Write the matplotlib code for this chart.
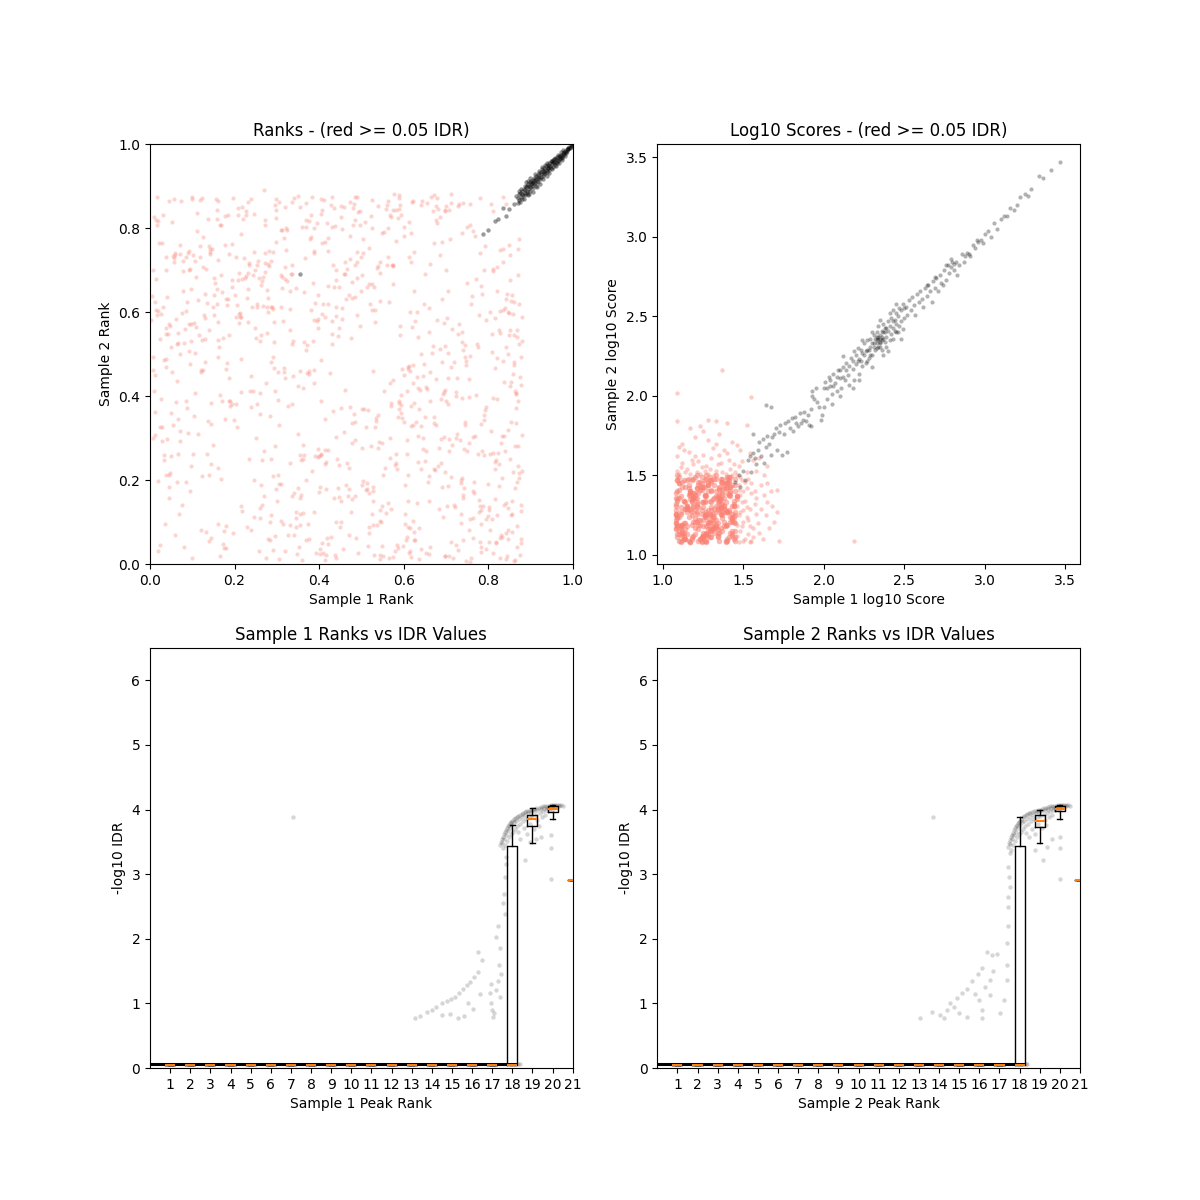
import numpy as np
import matplotlib
matplotlib.use("Agg")
import matplotlib.pyplot as plt

# ---------------- Panel 1: ranks (per mille) ----------------
rank_red_x = [
12,345,678,101,834,456,223,590,767,39,412,858,290,153,621,505,744,87,369,812,
234,567,45,701,388,129,876,543,266,698,17,452,803,331,610,174,489,755,62,297,
528,843,190,415,672,93,357,781,246,634,501,28,869,313,145,726,584,439,207,650,
779,352,118,597,864,273,436,5,689,531,162,820,398,741,54,476,259,613,847,381,
70,558,293,736,421,167,609,872,332,486,215,793,648,24,370,541,107,825,462,279,
615,188,749,430,856,79,302,567,683,241,518,835,137,404,712,46,591,363,878,226,
497,660,34,286,771,145,523,408,850,199,617,351,94,738,472,261,803,576,13,389,
841,253,706,128,574,395,819,66,637,482,309,761,182,548,871,418,237,695,111,556,
324,789,441,60,602,277,866,513,159,728,386,21,654,490,817,212,573,349,748,104,
686,137,535,829,398,250,713,76,461,594,872,315,177,640,425,784,29,561,298,853,
415,740,206,562,88,337,808,479,661,141,526,381,765,8,618,271,842,444,123,697,
583,32,366,727,214,856,499,157,642,303,777,95,431,545,868,260,712,188,607,374,
822,448,117,673,290,539,41,754,385,612,196,880,467,327,729,81,504,636,229,793,
159,600,817,345,72,482,699,253,864,410,133,576,770,305,627,49,453,739,215,532,
697,275,851,48,508,363,721,190,589,432,16,780,316,658,102,839,474,245,569,399,
44,811,427,176,634,859,290,517,85,746,368,603,218,477,801,140,687,338,561,9,
758,234,593,404,67,681,829,152,455,318,746,527,12,866,282,610,398,197,707,484,
311,646,97,552,783,436,204,874,359,620,58,485,735,166,540,816,267,422,685,130,
568,19,702,388,835,123,641,296,479,763,215,587,849,347,79,522,659,240,807,430,
225,796,460,615,141,858,384,53,723,537,276,666,99,413,788,562,178,332,845,709,
631,387,158,810,502,26,678,445,256,592,833,114,364,747,493,871,203,624,71,452,
90,543,862,268,731,417,186,656,323,845,501,37,776,604,240,390,698,129,819,576,
796,321,488,62,611,773,209,857,430,144,553,677,305,25,741,466,583,852,193,376,
356,699,244,581,828,106,470,319,763,645,49,415,878,280,535,167,622,783,404,2,
518,173,804,451,37,672,294,545,860,216,399,730,84,617,471,336,819,152,695,263,
874,433,112,632,376,751,8,489,227,580,701,349,843,160,526,68,407,765,287,644,
203,736,549,86,865,297,620,420,180,795,337,591,44,706,475,861,253,126,562,389,
654,14,370,790,514,229,837,146,688,408,575,270,811,56,443,728,341,607,194,870,
462,826,279,63,593,724,363,185,848,506,118,675,414,799,231,37,630,550,312,757,
118,609,468,880,327,170,771,524,39,395,718,257,852,586,135,463,676,293,815,544,
739,281,75,436,662,820,193,568,312,97,742,485,626,354,876,211,512,17,398,663,
346,547,795,161,420,30,635,284,867,714,453,108,589,239,779,363,55,832,496,178,
822,100,651,389,248,566,855,473,15,743,320,606,184,447,708,527,271,863,139,671,
261,703,480,832,131,378,598,47,524,861,287,684,413,756,92,220,579,337,805,440,
581,404,23,725,305,847,161,621,489,210,694,855,67,359,533,782,416,143,647,270,
57,402,739,180,623,846,311,95,528,764,243,470,812,136,681,365,19,590,857,274,
441,708,162,533,879,320,64,655,217,786,392,501,28,748,604,151,836,287,459,713,
183,612,354,827,71,497,740,260,569,15,673,418,842,109,536,296,781,642,206,388,
868,245,516,40,705,377,159,824,450,631,85,283,760,562,339,867,124,478,695,9,
296,553,830,193,417,64,720,588,335,863,474,210,646,31,779,527,168,403,852,659,
510,77,669,403,249,791,126,558,877,322,692,448,56,615,231,806,371,140,584,738,
37,754,286,601,437,149,873,515,89,662,346,815,207,539,716,265,430,19,800,594,
723,383,92,846,263,544,170,691,420,32,758,611,298,870,486,104,637,355,226,878,
406,617,200,52,734,485,336,809,133,571,252,697,441,877,160,623,73,514,782,319,
166,860,477,318,590,7,427,745,596,231,843,120,382,690,548,11,735,463,276,851,
625,299,38,766,179,654,505,855,271,448,67,578,812,333,144,706,519,847,404,92,
839,113,707,540,372,837,232,24,663,355,481,786,163,617,877,291,565,187,676,44,
273,486,827,97,664,357,783,601,126,871,311,43,524,755,398,217,838,624,83,460,
586,741,148,625,49,811,454,173,391,713,548,865,288,106,677,437,6,758,302,517,
120,368,574,880,216,492,70,638,826,263,405,689,96,332,571,749,160,831,440,612]
rank_red_y = [
451,87,812,263,604,35,729,388,170,547,866,219,492,668,103,775,339,625,58,841,
712,300,156,853,430,586,21,694,247,519,808,372,135,650,465,78,742,289,583,869,
184,632,376,9,765,508,248,871,113,419,687,327,556,795,62,443,226,613,848,351,
594,41,730,465,282,819,158,637,393,21,577,706,254,859,332,124,681,472,81,778,
316,846,528,97,661,202,413,773,558,875,138,367,620,45,802,290,502,239,720,601,
30,387,669,524,149,721,456,832,277,612,73,750,341,486,207,865,566,121,427,685,
807,552,260,116,679,384,828,50,597,343,787,181,702,528,862,406,129,666,308,745,
146,713,442,594,17,811,247,526,368,856,102,638,478,289,751,61,412,573,836,228,
675,259,101,736,449,612,371,192,843,33,530,764,268,874,155,597,711,424,6,352,
511,822,348,63,274,538,880,140,691,403,217,579,760,36,454,663,292,855,178,626,
238,57,617,799,372,162,504,287,24,743,605,831,110,461,329,696,858,542,210,415,
843,485,728,310,589,76,651,868,227,390,516,174,803,627,40,357,470,739,263,96,
392,160,546,878,33,710,297,441,668,815,73,588,241,376,852,526,197,13,634,758,
655,782,226,123,500,358,843,620,182,26,702,439,305,863,578,256,99,789,487,326,
19,431,676,566,814,249,135,388,846,712,592,53,466,195,735,609,373,834,132,258,
571,264,855,39,304,452,608,752,196,492,860,118,679,335,53,213,826,532,711,413,
106,716,378,834,549,233,15,682,797,457,330,174,623,404,746,89,561,871,269,636,
795,448,572,211,128,660,380,525,9,862,741,296,193,807,354,466,614,48,736,535,
253,602,139,740,483,872,328,67,633,174,410,824,545,25,698,282,151,447,856,579,
681,36,314,459,737,595,222,814,401,93,653,503,868,271,137,731,345,606,20,775,
446,800,620,107,277,394,871,182,721,545,65,309,648,475,837,233,587,384,760,150,
312,129,480,683,858,22,545,417,796,643,189,730,263,96,375,622,841,481,52,710,
580,747,63,385,212,525,677,120,875,334,790,441,13,596,156,703,261,423,660,817,
850,18,688,240,551,407,178,849,61,299,517,767,141,634,340,808,475,96,259,582,
87,537,261,852,700,336,466,11,623,785,172,571,389,718,228,863,49,640,410,189,
620,365,792,146,453,268,701,593,840,32,389,876,516,229,667,119,764,302,480,865,
732,199,42,602,336,824,564,271,465,106,691,855,213,381,537,8,612,779,145,461,
27,820,510,354,660,87,433,750,298,596,844,163,395,718,251,547,872,65,380,689,
414,556,714,195,830,46,284,630,501,369,758,224,588,115,862,470,337,19,683,807,
866,295,162,531,70,647,403,800,213,578,482,32,735,350,621,188,853,577,243,102,
205,709,597,848,389,117,761,430,656,530,275,818,57,158,446,694,327,874,584,41,
658,99,373,493,777,612,244,56,541,283,827,684,370,870,125,419,733,205,567,828,
490,875,246,124,700,15,337,781,604,181,443,56,831,660,297,92,740,412,558,349,
134,586,848,304,643,775,43,217,867,474,612,130,345,5,700,821,236,523,81,677,
768,263,535,410,191,60,865,332,718,575,111,433,263,802,605,29,178,749,476,890,
728,184,553,39,865,320,611,477,150,793,412,68,702,261,846,529,198,384,640,15,
303,842,95,576,221,708,436,859,127,642,27,369,764,484,187,592,873,250,690,53,
617,26,459,748,293,840,165,532,384,679,227,811,73,565,704,412,139,855,327,582,
91,744,367,636,186,459,821,264,87,601,730,352,14,865,448,195,534,672,303,827,
854,413,69,676,244,523,140,878,381,9,726,595,275,832,152,460,689,36,557,209,
177,650,840,25,563,342,706,121,494,799,405,236,868,86,655,317,522,756,45,396,
562,80,722,339,805,611,205,43,740,458,109,586,832,277,14,675,547,816,190,360,
301,873,572,134,665,22,388,766,618,247,495,151,842,389,713,575,86,259,831,126,
844,16,640,457,295,163,712,548,76,826,382,219,590,51,723,430,865,178,334,678,
403,545,154,776,871,299,64,522,347,694,12,456,605,184,789,361,119,632,550,249,
57,766,488,196,631,421,740,116,808,562,345,880,26,690,237,503,168,600,389,745,
270,629,18,853,454,140,577,327,715,94,808,270,516,376,60,744,624,443,819,183,
716,339,602,233,875,164,41,802,463,281,689,548,120,397,641,850,304,77,559,851,
38,509,284,742,360,697,584,47,256,860,138,407,612,721,330,21,493,856,213,666,
463,820,712,308,589,26,739,415,185,546,870,240,654,93,377,802,534,288,15,731]
rank_red_extra_pts = [
(240,80),(265,140),(290,210),(315,95),(340,170),(365,260),(250,300),(280,60),(305,330),(330,240),
(355,120),(375,60),(245,200),(270,270),(300,150),(320,30),(350,310),(260,110),(295,280),(340,70),
(370,200),(235,250),(310,190),(285,100),
(610,470),(635,540),(660,610),(690,480),(715,560),(625,650),(650,690),(680,580),(705,650),(640,500),
(670,520),(700,700),(615,600),(690,630),
(410,620),(440,700),(470,640),(500,730),(530,660),(420,745),(455,610),(490,680),(520,620),(545,720),
(20,30),(60,70),(100,15),(140,55),(180,90),(35,95),(80,40),(120,80),(165,20),
(760,620),(790,700),(820,650),(850,760),(770,780),(805,600),(835,720),(780,740)]
rank_black_pts = [
(355,690),(788,785),(800,796),(816,817),(823,822),(842,829),(836,848),(850,846),(862,858),(866,876),
(870,872),(872,880),(874,866),(876,884),(878,874),(880,889),(881,870),(883,878),(885,893),(886,884),
(888,879),(889,897),(891,888),(892,900),(893,884),(895,905),(896,893),(898,889),(899,909),(900,897),
(902,912),(903,901),(905,896),(906,915),(908,904),(909,920),(911,907),(912,900),(914,923),(915,913),
(917,926),(918,910),(920,919),(921,930),(923,916),(924,934),(926,922),(927,940),(929,925),(930,936),
(932,929),(933,944),(935,932),(936,948),(938,939),(939,933),(941,951),(942,944),(944,938),(945,955),
(947,948),(948,942),(950,959),(951,952),(953,946),(954,963),(956,955),(957,950),(959,966),(960,958),
(962,954),(963,969),(965,962),(966,959),(968,972),(969,966),(971,964),(972,975),(974,970),(975,967),
(977,979),(978,974),(980,977),(981,983),(983,980),(984,978),(986,987),(987,984),(989,990),(990,988),
(992,993),(993,991),(995,995),(996,994),(998,998),(999,1000),(1000,999),(904,908),(913,917),(925,929),
(934,938),(943,947),(952,956),(961,964),(970,972),(979,981),(988,989),(897,900),(907,910),(919,922),
(890,910),(895,878),(900,920),(905,885),(910,928),(915,898),(920,935),(922,905),(928,945),(930,916),
(935,950),(938,925),(940,955),(944,930),(948,960),(952,940),(956,965),(960,948),(964,973),(967,955),
(972,980),(975,962),(978,986),(982,972),(886,900),(884,868),(894,912),(897,880),(877,893),(875,862),
(873,888),(871,860),(880,880),(887,890),(901,905),(911,915),(931,934),(941,943),(955,958)]

# ---------------- Panel 2: log10 scores (x100) ----------------
score_red_core_x = [
108,125,139,114,131,120,144,110,128,136,117,142,122,111,133,126,109,140,119,135,
113,130,145,121,108,137,124,116,141,129,112,134,118,143,127,109,138,123,115,132,
140,111,126,134,119,145,108,129,137,114,122,139,110,131,125,143,117,128,136,120,
124,136,113,142,109,127,133,118,146,121,130,112,138,126,115,141,108,134,123,129,
131,118,144,108,125,139,114,128,121,135,110,142,127,116,133,120,137,111,140,126,
116,143,122,130,138,109,134,119,127,145,113,124,136,110,129,117,141,121,132,108,
135,120,128,112,141,126,117,139,108,131,123,144,115,137,111,133,125,142,118,130,
110,132,141,125,114,136,129,108,143,119,127,134,121,140,113,126,138,116,131,144,
127,109,133,146,120,115,138,124,130,111,142,118,135,128,109,143,122,137,114,126,
143,124,117,133,128,140,111,135,122,144,116,130,109,139,125,119,132,145,112,136,
119,138,130,109,145,123,128,142,114,126,137,110,133,121,140,115,129,108,135,124,
134,114,126,139,117,131,144,112,137,120,109,128,141,124,136,118,111,130,143,122,
111,129,142,121,134,108,125,136,118,140,131,113,126,145,120,135,127,141,116,110,
138,123,115,128,111,143,132,120,126,109,135,146,117,130,122,139,113,124,137,129,
122,140,134,117,130,125,110,145,133,127,114,139,124,108,142,129,119,136,121,133,
128,112,137,143,123,118,140,131,109,136,125,120,144,134,127,111,139,115,128,141,
145,135,119,126,137,113,121,127,140,116,132,123,108,129,138,145,124,112,133,118,
117,127,110,136,142,132,119,113,124,134,143,121,130,115,108,126,140,135,109,137]
score_red_core_y = [
132,118,145,110,126,139,121,149,113,135,128,143,116,108,137,124,147,119,130,141,
112,140,125,133,117,148,109,129,138,121,146,114,134,126,150,111,142,119,131,136,
127,109,143,120,136,115,131,147,123,110,139,128,145,117,133,122,108,140,126,149,
145,130,114,139,124,108,148,119,135,127,141,112,129,137,118,146,125,133,110,122,
118,147,134,126,111,142,129,121,150,114,136,124,109,144,131,117,139,127,148,113,
138,123,109,146,131,118,137,112,127,144,120,133,148,115,125,140,111,136,129,120,
109,136,128,115,149,125,140,133,116,122,146,110,131,138,119,127,143,114,135,147,
141,114,147,130,120,135,111,126,144,137,113,128,121,149,110,134,118,142,124,131,
124,150,119,137,113,129,144,108,133,118,140,125,136,112,147,121,130,145,116,138,
113,128,139,122,145,110,126,142,119,131,148,116,140,127,112,136,124,109,143,132,
148,121,111,134,127,143,116,137,129,109,125,145,118,132,139,113,149,122,134,111,
130,143,125,109,138,120,132,114,146,123,135,119,127,141,117,110,137,128,115,144,
117,134,149,126,112,139,122,130,111,142,116,147,133,120,128,143,114,138,124,109,
136,110,127,144,118,131,148,121,138,113,129,137,108,125,146,119,134,111,141,126,
122,145,116,135,130,112,124,140,117,148,133,108,143,128,121,115,139,126,131,150,
144,119,132,112,141,127,109,135,123,146,114,138,124,111,137,130,118,147,120,128,
111,138,121,147,115,134,142,118,127,109,144,122,136,116,131,148,126,113,140,133,
139,126,113,129,143,117,131,110,149,136,124,142,115,130,120,112,145,134,119,127]
score_red_fringe_pts = [
(146,112),(147,125),(148,138),(146,131),(149,118),(147,144),(150,109),(148,127),(151,134),(146,119),
(152,142),(150,121),(153,113),(149,147),(154,129),(151,110),(155,139),(152,124),(156,117),(153,148),
(157,132),(154,108),(158,126),(155,145),(146,137),(148,115),(150,140),(152,130),(156,111),(159,120),
(147,108),(149,133),(151,146),(153,122),(157,140),(160,114),(146,150),(158,136),(154,118),(150,128),
(147,141),(155,109),(161,129),(148,149),(152,152),
(162,110),(164,125),(163,138),(166,117),(165,145),(168,131),(172,109),(167,140),(171,127),(169,121),
(171,141),(165,133),(163,150),(161,144),(165,156),(160,161),
(110,151),(115,154),(121,152),(127,156),(133,153),(139,151),(144,157),(112,158),(118,160),(124,155),
(130,161),(136,158),(142,154),(109,162),(116,165),(122,159),(128,151),(135,163),(141,160),(147,156),
(111,155),(119,157),(125,163),(132,150),(138,166),(145,152),(113,166),(120,162),(126,153),(134,157),
(140,164),(149,159),(114,152),(131,167),(117,151),(109,153),(123,151),(137,152),(143,150),(129,154),
(112,170),(120,174),(128,172),(135,176),(143,171),(125,178),(117,180),(140,183),(148,166),(154,164),
(133,170),(146,169),
(109,202),(137,216),(219,109),(109,184),(155,199),(123,181),(128,185),(133,184),(110,168),(152,182),
(158,153),(156,160)]
score_black_pts = [
(145,146),(147,150),(148,143),(150,153),(151,147),(153,160),(154,162),(155,152),(156,164),(157,161),
(158,157),(159,166),(160,171),(161,162),(162,173),(163,158),(164,168),(165,175),(166,170),(167,163),
(168,174),(169,176),(170,180),(171,166),(172,177),(173,182),(174,163),(175,176),(176,183),(177,165),
(178,184),(179,180),(180,186),(181,178),(182,187),(183,183),(184,181),(185,189),(186,183),(187,185),
(188,190),(189,184),(190,188),(191,182),(192,192),(193,203),(193,200),(194,198),(195,205),(196,196),
(197,193),(198,185),(199,188),(200,193),(192,181),(164,194),(167,193),(156,176),
(200,205),(201,209),(202,198),(203,212),(204,206),(205,201),(206,214),(207,208),(208,203),(209,216),
(210,211),(211,205),(212,218),(213,210),(214,221),(215,213),(216,207),(217,224),(218,217),(219,210),
(220,226),(221,222),(222,214),(223,229),(224,219),(225,233),(225,226),(226,221),(227,235),(227,229),
(228,224),(229,236),(229,231),(230,226),(231,238),(231,233),(232,229),(233,240),(233,235),(234,231),
(234,244),(235,238),(235,233),(236,241),(236,229),(237,236),(237,245),(238,240),(238,234),(239,243),
(239,237),(240,247),(240,241),(241,235),(241,244),(242,239),(242,249),(243,243),(243,236),(244,248),
(244,241),(245,252),(245,245),(246,240),(246,250),(247,244),(248,254),(248,247),(249,242),(250,255),
(250,249),(232,236),(234,237),(236,237),(233,233),(235,236),(237,240),(231,231),(238,243),(230,233),
(228,229),(226,228),(224,227),(222,223),(220,220),(218,222),(216,219),(214,216),(212,212),(210,216),
(208,212),(206,206),(204,210),(202,205),(219,228),(221,230),(223,222),(239,231),(241,252),(243,247),
(245,240),(247,255),(249,258),(227,222),(229,226),(233,230),(235,231),
(205,195),(212,225),(218,205),(224,235),(230,218),(235,248),(240,228),(245,258),(248,236),(222,210),
(210,200),(230,240),(237,226),(243,254),(234,236),(236,235),(235,234),(233,237),
(251,256),(252,251),(253,260),(254,254),(255,262),(256,257),(257,251),(258,264),(259,259),(260,266),
(261,261),(262,256),(263,268),(264,263),(265,270),(266,266),(267,259),(268,272),(269,268),(270,274),
(271,266),(272,276),(273,271),(274,270),(275,279),(276,273),(277,282),(278,277),(279,281),(280,284),
(281,279),(282,284),(283,276),(284,282),(286,289),(287,284),(288,288),(289,290),(290,289),(291,288),
(293,295),(294,293),(295,298),(296,297),(298,298),(299,296),(300,302),(276,282),(279,286),(281,283),
(269,275),(264,270),
(302,304),(304,300),(306,309),(308,305),(310,311),(312,313),(314,313),(316,318),(318,317),(320,320),
(322,325),(325,327),(327,326),(329,330),(334,338),(336,337),(341,342),(347,347)]

# ---------------- Panels 3/4: peak rank vs -log10 IDR ----------------
floor_x = [0.0, 18.25]
floor_y = [0.065, 0.065]

idr1_pts = [
(17.40,3.45),(17.45,3.50),(17.50,3.55),(17.55,3.58),(17.60,3.62),(17.65,3.65),(17.70,3.68),(17.75,3.71),
(17.80,3.74),(17.85,3.76),(17.90,3.79),(17.95,3.81),(18.00,3.83),(18.08,3.85),(18.15,3.87),(18.22,3.89),
(18.30,3.90),(18.38,3.92),(18.46,3.93),(18.54,3.95),(18.62,3.96),(18.70,3.97),(18.80,3.98),(18.90,3.99),
(19.00,4.00),(19.10,4.01),(19.20,4.02),(19.30,4.03),(19.40,4.04),(19.50,4.05),(19.60,4.05),(19.70,4.06),
(19.80,4.06),(19.90,4.07),(20.00,4.07),(20.10,4.07),(20.20,4.07),(20.30,4.07),(20.40,4.07),(20.50,4.06),
(17.50,3.48),(17.60,3.55),(17.70,3.60),(17.80,3.67),(17.90,3.72),(18.00,3.76),(18.10,3.80),(18.20,3.83),
(18.35,3.86),(18.50,3.89),(18.65,3.91),(18.80,3.94),(18.95,3.96),(19.10,3.98),(19.25,3.99),(19.40,4.01),
(19.55,4.02),(19.70,4.03),(19.85,4.04),(20.00,4.05),(20.15,4.06),(20.30,4.06),
(17.55,3.40),(17.65,3.45),(17.75,3.52),(17.85,3.58),(17.95,3.62),(18.05,3.66),(18.15,3.70),(18.25,3.74),
(18.40,3.78),(18.55,3.82),(18.70,3.85),(18.85,3.88),(19.00,3.90),(19.20,3.92),(19.35,3.95),(19.50,3.97),
(19.65,3.99),(19.80,4.01),(18.30,3.65),(18.60,3.72),(18.90,3.78),(19.25,3.84),(19.45,3.89),(19.10,3.70),
(18.40,3.55),(18.75,3.62),(19.30,3.75),(19.60,3.92),(19.95,3.99),
(19.94,3.60),(19.94,3.40),(18.62,3.22),(19.20,3.55),(19.90,2.93),(18.90,3.50),(19.40,3.58),
(17.71,3.16),(17.68,3.27),(17.63,2.95),(17.60,2.70),(17.63,2.39),(17.55,2.55),(17.21,2.03),(17.30,2.20),
(17.38,1.85),(17.35,1.60),(17.38,1.10),(17.30,1.35),(17.05,0.79),(17.00,0.90),(16.95,1.00),(16.88,1.16),
(16.92,1.30),(17.10,0.85),(17.20,1.20),(17.45,1.45),
(13.16,0.77),(13.40,0.80),(13.74,0.87),(14.00,0.90),(14.23,0.95),(14.50,1.00),(14.73,1.03),(14.95,1.07),
(15.14,1.10),(15.35,1.16),(15.56,1.23),(15.75,1.29),(15.89,1.33),(16.10,1.41),(16.30,1.49),(16.47,1.67),
(16.30,1.80),(14.53,0.82),(15.30,0.77),(16.05,0.92),(15.60,0.80),(14.90,0.83),(16.40,1.15),(15.80,1.00),
(7.10,3.88),(18.30,0.06),(18.38,0.06)]

idr2_pts = [
(17.40,3.42),(17.45,3.48),(17.50,3.53),(17.55,3.57),(17.60,3.61),(17.65,3.64),(17.70,3.68),(17.75,3.71),
(17.80,3.74),(17.85,3.76),(17.90,3.79),(17.95,3.81),(18.00,3.83),(18.08,3.86),(18.15,3.88),(18.22,3.90),
(18.30,3.91),(18.38,3.93),(18.46,3.94),(18.54,3.95),(18.62,3.96),(18.70,3.97),(18.80,3.98),(18.90,3.99),
(19.00,4.00),(19.10,4.01),(19.20,4.02),(19.30,4.03),(19.40,4.04),(19.50,4.05),(19.60,4.05),(19.70,4.06),
(19.80,4.06),(19.90,4.07),(20.00,4.07),(20.10,4.07),(20.20,4.07),(20.30,4.07),(20.40,4.07),(20.50,4.06),
(17.50,3.46),(17.60,3.54),(17.70,3.60),(17.80,3.66),(17.90,3.71),(18.00,3.76),(18.10,3.80),(18.20,3.83),
(18.35,3.86),(18.50,3.89),(18.65,3.91),(18.80,3.94),(18.95,3.96),(19.10,3.98),(19.25,3.99),(19.40,4.01),
(19.55,4.02),(19.70,4.03),(19.85,4.04),(20.00,4.05),(20.15,4.06),(20.30,4.06),
(17.55,3.38),(17.65,3.45),(17.75,3.52),(17.85,3.58),(17.95,3.62),(18.05,3.66),(18.15,3.70),(18.25,3.74),
(18.40,3.78),(18.55,3.82),(18.70,3.85),(18.85,3.88),(19.00,3.90),(19.20,3.92),(19.35,3.95),(19.50,3.97),
(19.65,3.99),(19.80,4.01),(18.30,3.64),(18.60,3.70),(18.90,3.78),(19.25,3.84),(19.45,3.89),(19.10,3.72),
(18.45,3.58),(18.75,3.62),(19.30,3.76),(19.60,3.92),(19.95,3.99),
(20.01,3.58),(20.01,3.40),(19.18,3.22),(18.77,3.37),(20.01,2.93),(19.35,3.42),(19.60,3.55),
(17.53,3.32),(17.44,3.11),(17.53,2.80),(17.44,2.49),(17.44,2.19),(17.36,1.93),(17.36,1.36),(17.20,1.05),
(17.03,0.85),(17.40,2.65),(17.38,1.60),(17.45,2.95),(16.53,1.36),(16.53,1.13),(16.87,1.77),(16.62,1.75),
(13.06,0.77),(13.64,0.86),(14.05,0.82),(14.22,0.77),(14.38,0.90),(14.55,1.00),(14.88,1.08),(15.13,1.16),
(15.38,1.23),(15.63,1.34),(15.95,1.46),(16.12,1.54),(16.37,1.80),(16.12,0.90),(16.12,0.77),(15.38,0.79),
(14.75,0.95),(15.80,1.15),(16.30,1.25),(16.70,1.50),(15.00,0.85),(16.00,1.05),
(13.72,3.89),(18.30,0.06),(18.38,0.06)]

box_positions = [1,2,3,4,5,6,7,8,9,10,11,12,13,14,15,16,17,18,19,20,21]
box1_med = [0.045]*17 + [0.045, 3.85, 4.01, 2.91]
box1_q1  = [0.045]*17 + [0.045, 3.74, 3.96, 2.91]
box1_q3  = [0.045]*17 + [3.44, 3.92, 4.05, 2.91]
box1_lo  = [0.045]*17 + [0.045, 3.48, 3.85, 2.91]
box1_hi  = [0.045]*17 + [3.76, 4.02, 4.07, 2.91]
box2_med = [0.045]*17 + [0.045, 3.83, 4.01, 2.91]
box2_q1  = [0.045]*17 + [0.045, 3.73, 3.97, 2.91]
box2_q3  = [0.045]*17 + [3.44, 3.91, 4.05, 2.91]
box2_lo  = [0.045]*17 + [0.045, 3.48, 3.86, 2.91]
box2_hi  = [0.045]*17 + [3.88, 4.00, 4.07, 2.91]

RED = "salmon"

fig, axes = plt.subplots(2, 2, figsize=(12, 12), dpi=100)

# Panel 1
ax = axes[0, 0]
rb = np.array(rank_black_pts, dtype=float).T / 1000.0
rx = np.array(rank_red_extra_pts, dtype=float).T / 1000.0
ax.scatter(np.array(rank_red_x) / 1000.0, np.array(rank_red_y) / 1000.0,
           s=9, c=RED, alpha=0.33, linewidths=0)
ax.scatter(rx[0], rx[1], s=9, c=RED, alpha=0.33, linewidths=0)
ax.scatter(rb[0], rb[1], s=10, c="black", alpha=0.4, linewidths=0)
ax.set_xlim(0, 1)
ax.set_ylim(0, 1)
ax.set_title("Ranks - (red >= 0.05 IDR)")
ax.set_xlabel("Sample 1 Rank")
ax.set_ylabel("Sample 2 Rank")

# Panel 2
ax = axes[0, 1]
fr = np.array(score_red_fringe_pts, dtype=float).T / 100.0
bk = np.array(score_black_pts, dtype=float).T / 100.0
ax.scatter(np.array(score_red_core_x) / 100.0, np.array(score_red_core_y) / 100.0,
           s=16, c=RED, alpha=0.55, linewidths=0)
ax.scatter(fr[0], fr[1], s=10, c=RED, alpha=0.4, linewidths=0)
ax.scatter(bk[0], bk[1], s=9, c="black", alpha=0.3, linewidths=0)
ax.set_xlim(0.965, 3.593)
ax.set_ylim(0.943, 3.584)
ax.set_xticks([1.0, 1.5, 2.0, 2.5, 3.0, 3.5])
ax.set_yticks([1.0, 1.5, 2.0, 2.5, 3.0, 3.5])
ax.set_title("Log10 Scores - (red >= 0.05 IDR)")
ax.set_xlabel("Sample 1 log10 Score")
ax.set_ylabel("Sample 2 log10 Score")

# Panels 3 and 4
def make_stats(med, q1, q3, lo, hi):
    return [dict(med=m, q1=a, q3=b, whislo=l, whishi=h, fliers=[])
            for m, a, b, l, h in zip(med, q1, q3, lo, hi)]

panels = [
    (axes[1, 0], idr1_pts, make_stats(box1_med, box1_q1, box1_q3, box1_lo, box1_hi),
     "Sample 1 Ranks vs IDR Values", "Sample 1 Peak Rank"),
    (axes[1, 1], idr2_pts, make_stats(box2_med, box2_q1, box2_q3, box2_lo, box2_hi),
     "Sample 2 Ranks vs IDR Values", "Sample 2 Peak Rank"),
]
for ax, pts, stats, title, xlabel in panels:
    p = np.array(pts, dtype=float).T
    ax.plot(floor_x, floor_y, color="black", lw=2.2, solid_capstyle="butt", zorder=1)
    ax.scatter(p[0], p[1], s=10, c="black", alpha=0.16, linewidths=0, zorder=1)
    ax.bxp(stats, positions=box_positions, widths=0.5, showfliers=False,
           medianprops=dict(color="C1", linewidth=1.5, zorder=4))
    ax.set_xlim(0, 21)
    ax.set_ylim(0, 6.5)
    ax.set_xticks(box_positions)
    ax.set_xticklabels([str(v) for v in box_positions])
    ax.set_yticks([0, 1, 2, 3, 4, 5, 6])
    ax.set_title(title)
    ax.set_xlabel(xlabel)
    ax.set_ylabel("-log10 IDR")

fig.savefig("out.png", dpi=100)
